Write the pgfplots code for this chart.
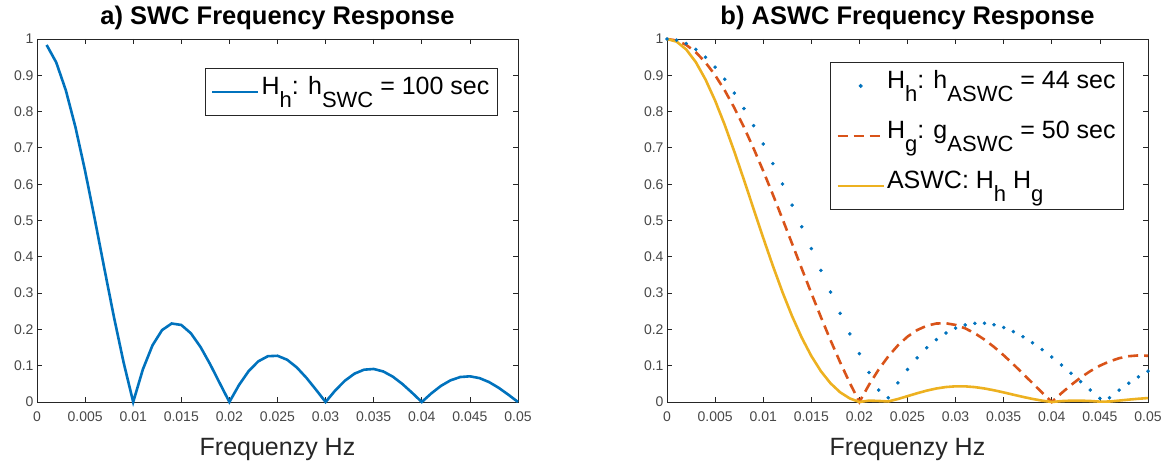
\documentclass[border=0pt]{standalone}
\usepackage{fontspec}
\setmainfont{Liberation Sans}
\usepackage{pgfplots}
\pgfplotsset{compat=1.18}
\definecolor{mblue}{rgb}{0,0.447,0.741}
\definecolor{morange}{rgb}{0.85,0.325,0.098}
\definecolor{myellow}{rgb}{0.929,0.694,0.125}
\definecolor{axgray}{rgb}{0.15,0.15,0.15}
\newcommand\sub[1]{\raisebox{-13pt}{\fontsize{22}{22}\selectfont #1}}
\pgfplotsset{
 mstyle/.style={
  scale only axis, width=481pt, height=363pt,
  xmin=0, xmax=0.05, ymin=0, ymax=1, clip=false,
  scaled x ticks=false, scaled y ticks=false,
  axis line style={axgray, line width=0.8pt},
  tick style={axgray, line width=0.8pt},
  major tick length=5pt, tick align=inside, tick pos=both,
  xtick={0,0.005,0.01,0.015,0.02,0.025,0.03,0.035,0.04,0.045,0.05},
  xticklabels={0,0.005,0.01,0.015,0.02,0.025,0.03,0.035,0.04,0.045,0.05},
  ytick={0,0.1,0.2,0.3,0.4,0.5,0.6,0.7,0.8,0.9,1},
  yticklabels={0,0.1,0.2,0.3,0.4,0.5,0.6,0.7,0.8,0.9,1},
  ticklabel style={font=\fontsize{14}{14}\selectfont, text=axgray!85},
  xticklabel style={yshift=-6pt},
  title style={font=\fontsize{25.5}{25.5}\selectfont\bfseries, at={(axis description cs:0.5,1)}, anchor=base, yshift=8pt},
  xlabel={Frequenzy Hz},
  xlabel style={font=\fontsize{25}{25}\selectfont, text=axgray, at={(axis description cs:0.5,0)}, anchor=base, yshift=-53pt},
  legend cell align=left,
  legend image code/.code={\draw[mark repeat=2,mark phase=2,##1] plot coordinates {(0pt,0pt) (23pt,0pt) (46pt,0pt)};},
  legend style={font=\fontsize{25}{25}\selectfont, draw=axgray, line width=0.8pt, fill=white, inner sep=6pt,
    nodes={inner sep=2pt, text height=18pt, text depth=13pt}},
 }
}
\begin{document}
\begin{tikzpicture}
\path[use as bounding box] (0,0) rectangle (1176pt,466pt);
\begin{axis}[mstyle, at={(37pt,64pt)}, anchor=south west,
  title={a) SWC Frequency Response},
  legend style={at={(0.958,0.92)}, anchor=north east}]
\addplot[mblue, line width=2.6pt] coordinates {
(0.001,0.98363)(0.002,0.93549)(0.003,0.85839)(0.004,0.75683)(0.005,0.63662)
(0.006,0.50455)(0.007,0.36788)(0.008,0.23387)(0.009,0.10929)(0.010,0)
(0.011,0.08942)(0.012,0.15592)(0.013,0.19809)(0.014,0.21624)(0.015,0.21221)
(0.016,0.18921)(0.017,0.15148)(0.018,0.10394)(0.019,0.05177)(0.020,0)
(0.021,0.04684)(0.022,0.08504)(0.023,0.11196)(0.024,0.12614)(0.025,0.12732)
(0.026,0.11643)(0.027,0.09538)(0.028,0.06682)(0.029,0.03392)(0.030,0)
(0.031,0.03173)(0.032,0.05847)(0.033,0.07804)(0.034,0.08904)(0.035,0.09095)
(0.036,0.08409)(0.037,0.06960)(0.038,0.04924)(0.039,0.02522)(0.040,0)
(0.041,0.02399)(0.042,0.04455)(0.043,0.05989)(0.044,0.06880)(0.045,0.07074)
(0.046,0.06581)(0.047,0.05479)(0.048,0.03898)(0.049,0.02007)(0.050,0)
};
\addlegendentry{H\sub{h}: h\sub{SWC} = 100 sec}
\end{axis}
\begin{axis}[mstyle, at={(667pt,64pt)}, anchor=south west,
  title={b) ASWC Frequency Response},
  legend style={at={(0.95,0.9366)}, anchor=north east, row sep=15pt}]
\addplot[mblue, only marks, mark=*, mark size=1.6pt] coordinates {
(0,1)(0.001,0.99682)(0.002,0.98730)(0.003,0.97162)(0.004,0.94983)(0.005,0.92227)
(0.006,0.88924)(0.007,0.85110)(0.008,0.80829)(0.009,0.76129)(0.010,0.71062)
(0.011,0.65684)(0.012,0.60053)(0.013,0.54231)(0.014,0.48280)(0.015,0.42263)
(0.016,0.36243)(0.017,0.30280)(0.018,0.24433)(0.019,0.18761)(0.020,0.13316)
(0.021,0.08147)(0.022,0.03300)(0.023,0.01185)(0.024,0.05276)(0.025,0.08942)
(0.026,0.12163)(0.027,0.14921)(0.028,0.17208)(0.029,0.19020)(0.030,0.20361)
(0.031,0.21239)(0.032,0.21670)(0.033,0.21673)(0.034,0.21276)(0.035,0.20506)
(0.036,0.19400)(0.037,0.17992)(0.038,0.16325)(0.039,0.14440)(0.040,0.12381)
(0.041,0.10191)(0.042,0.07916)(0.043,0.05599)(0.044,0.03284)(0.045,0.01009)
(0.046,0.01185)(0.047,0.03263)(0.048,0.05194)(0.049,0.06949)(0.050,0.08505)
};
\addlegendentry{H\sub{h}: h\sub{ASWC} = 44 sec}
\addplot[morange, line width=2.6pt, dash pattern=on 10pt off 6pt] coordinates {
(0,1)(0.001,0.99589)(0.002,0.98363)(0.003,0.96340)(0.004,0.93549)(0.005,0.90032)
(0.006,0.85839)(0.007,0.81033)(0.008,0.75683)(0.009,0.69865)(0.010,0.63662)
(0.011,0.57162)(0.012,0.50455)(0.013,0.43633)(0.014,0.36788)(0.015,0.30011)
(0.016,0.23387)(0.017,0.17001)(0.018,0.10929)(0.019,0.05242)(0.020,0)
(0.021,0.04742)(0.022,0.08942)(0.023,0.12566)(0.024,0.15592)(0.025,0.18006)
(0.026,0.19809)(0.027,0.21009)(0.028,0.21624)(0.029,0.21682)(0.030,0.21221)
(0.031,0.20283)(0.032,0.18921)(0.033,0.17189)(0.034,0.15148)(0.035,0.12862)
(0.036,0.10394)(0.037,0.07811)(0.038,0.05177)(0.039,0.02554)(0.040,0)
(0.041,0.02429)(0.042,0.04684)(0.043,0.06721)(0.044,0.08504)(0.045,0.10004)
(0.046,0.11196)(0.047,0.12069)(0.048,0.12614)(0.049,0.12832)(0.050,0.12732)
};
\addlegendentry{H\sub{g}: g\sub{ASWC} = 50 sec}
\addplot[myellow, line width=2.6pt] coordinates {
(0,1)(0.001,0.99272)(0.002,0.97114)(0.003,0.93606)(0.004,0.88856)(0.005,0.83034)
(0.006,0.76332)(0.007,0.68967)(0.008,0.61174)(0.009,0.53188)(0.010,0.45239)
(0.011,0.37546)(0.012,0.30300)(0.013,0.23663)(0.014,0.17761)(0.015,0.12683)
(0.016,0.08476)(0.017,0.05148)(0.018,0.02670)(0.019,0.00983)(0.020,0)
(0.021,0.00386)(0.022,0.00295)(0.023,0.00149)(0.024,0.00823)(0.025,0.01610)
(0.026,0.02409)(0.027,0.03135)(0.028,0.03721)(0.029,0.04124)(0.030,0.04321)
(0.031,0.04308)(0.032,0.04100)(0.033,0.03725)(0.034,0.03223)(0.035,0.02637)
(0.036,0.02016)(0.037,0.01405)(0.038,0.00845)(0.039,0.00369)(0.040,0)
(0.041,0.00248)(0.042,0.00371)(0.043,0.00376)(0.044,0.00279)(0.045,0.00101)
(0.046,0.00133)(0.047,0.00394)(0.048,0.00655)(0.049,0.00892)(0.050,0.01083)
};
\addlegendentry{ASWC: H\sub{h} H\sub{g}}
\end{axis}
\end{tikzpicture}
\end{document}
